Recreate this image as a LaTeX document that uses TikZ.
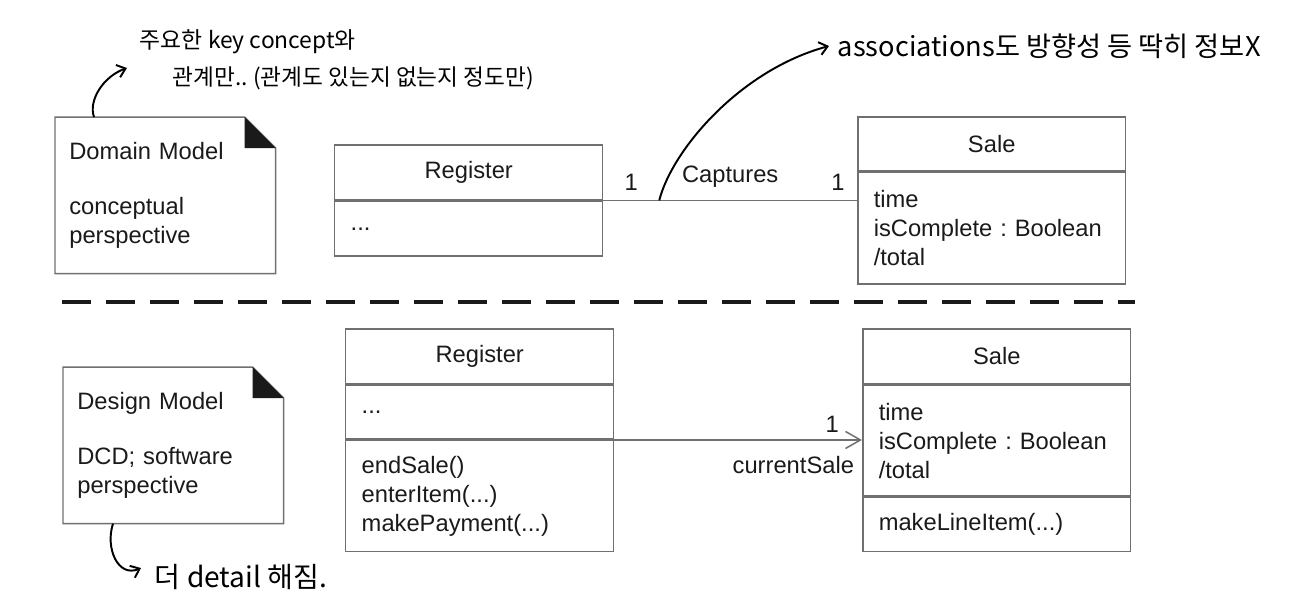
\documentclass[tikz,border=0pt]{standalone}
\usepackage{fontspec}
\setmainfont{Liberation Sans}
\newfontfamily\hand{Noto Sans CJK KR}
\usetikzlibrary{arrows.meta,positioning}
\definecolor{umlLine}{HTML}{707070}
\definecolor{umlText}{HTML}{1A1A1A}

\begin{document}
\frenchspacing
\begin{tikzpicture}[
        x=0.02cm, y=-0.02cm,
        umlfont/.style={font=\fontsize{13.5}{16.4}\selectfont, text=umlText},
        classhead/.style={umlfont, draw=umlLine, line width=0.85pt, minimum width=5.36cm, minimum height=1.1cm, inner sep=0pt, anchor=north west},
        classpart/.style={umlfont, draw=umlLine, line width=0.85pt, text width=4.72cm, inner xsep=0.32cm, inner ysep=0pt, align=left},
        notebox/.style={umlfont, text width=3.84cm, inner xsep=0.28cm, minimum height=3.12cm, align=left, anchor=north west},
        noteline/.style={draw=umlLine, line width=0.85pt},
        assoc/.style={draw=umlLine, line width=0.85pt},
        mult/.style={umlfont, inner sep=3pt},
        hint/.style={inner sep=2pt, anchor=west},
        pen/.style={line width=1.1pt, -{Straight Barb[length=1.6mm,width=2.6mm]}}
    ]
        \useasboundingbox (0,0) rectangle (1297,600);

        % domain model
        \node[notebox] (domainNote) at (55,117) {Domain Model\\[15pt]conceptual\\perspective};
        \draw[noteline] (domainNote.north west) -- ([xshift=-0.62cm]domainNote.north east) -- ([yshift=-0.62cm]domainNote.north east) |- (domainNote.south west) -- cycle;
        \fill[umlText] ([xshift=-0.62cm]domainNote.north east) |- ([yshift=-0.62cm]domainNote.north east) -- cycle;

        \node[classhead] (domRegHead) at (334,144) {Register};
        \node[classpart, minimum height=1.1cm, below=0pt of domRegHead] (domRegAttr) {...};

        \node[classhead, minimum height=1.08cm] (domSaleHead) at (857,116) {Sale};
        \node[classpart, minimum height=2.24cm, below=0pt of domSaleHead] (domSaleAttr) {time\\isComplete : Boolean\\/total};

        \draw[assoc] (domRegAttr.north east) -- coordinate[pos=0.22] (assocPick) (domRegAttr.north east -| domSaleAttr.west)
            node[mult, pos=0.11, above=2pt] {1}
            node[mult, pos=0.5, above=4pt] {Captures}
            node[mult, pos=0.925, above=2pt] {1};

        % separator
        \draw[umlText, line width=0.08cm, dash pattern=on 0.58cm off 0.3cm] (62,302) -- (1135,302);

        % design model
        \node[notebox] (designNote) at (63,367) {Design Model\\[15pt]DCD; software\\perspective};
        \draw[noteline] (designNote.north west) -- ([xshift=-0.62cm]designNote.north east) -- ([yshift=-0.62cm]designNote.north east) |- (designNote.south west) -- cycle;
        \fill[umlText] ([xshift=-0.62cm]designNote.north east) |- ([yshift=-0.62cm]designNote.north east) -- cycle;

        \node[classhead] (desRegHead) at (345,328) {Register};
        \node[classpart, minimum height=1.08cm, below=0pt of desRegHead] (desRegAttr) {...};
        \node[classpart, minimum height=2.22cm, below=0pt of desRegAttr] (desRegOps) {endSale()\\enterItem(...)\\makePayment(...)};

        \node[classhead] (desSaleHead) at (862,328) {Sale};
        \node[classpart, minimum height=2.22cm, below=0pt of desSaleHead] (desSaleAttr) {time\\isComplete : Boolean\\/total};
        \node[classpart, minimum height=1.08cm, below=0pt of desSaleAttr] (desSaleOps) {makeLineItem(...)};

        \draw[assoc, -{Straight Barb[length=0.3cm,width=0.34cm]}] (desRegOps.north east) -- (desRegOps.north east -| desSaleAttr.west)
            node[mult, pos=0.88, above=1pt] {1}
            node[mult, pos=1, anchor=north east, yshift=-0.2cm, xshift=-0.04cm] {currentSale};

        % handwritten remarks
        \node[hint, font=\hand\fontsize{13}{15}\selectfont] (hintKey) at (136,42) {주요한 key concept와};
        \node[hint, font=\hand\fontsize{12.9}{15}\selectfont] (hintKeyMore) at (169,78) {관계만.. (관계도 있는지 없는지 정도만)};
        \node[hint, font=\hand\fontsize{15.5}{18}\selectfont] (hintAssoc) at (834,46) {associations도 방향성 등 딱히 정보X};
        \node[hint, font=\hand\fontsize{16}{18}\selectfont] (hintDetail) at (151,577) {더 detail 해짐.};

        \draw[pen] ([xshift=0.78cm]domainNote.north west) .. controls (88,100) and (104,76) .. ([xshift=-0.84cm,yshift=0.2cm]hintKeyMore.west);
        \draw[pen] (assocPick) .. controls (672,150) and (740,70) .. ([xshift=-0.1cm]hintAssoc.west);
        \draw[pen] ([xshift=1.0cm]designNote.south west) .. controls (105,548) and (118,578) .. ([xshift=-0.2cm,yshift=0.18cm]hintDetail.west);
    \end{tikzpicture}
\end{document}
